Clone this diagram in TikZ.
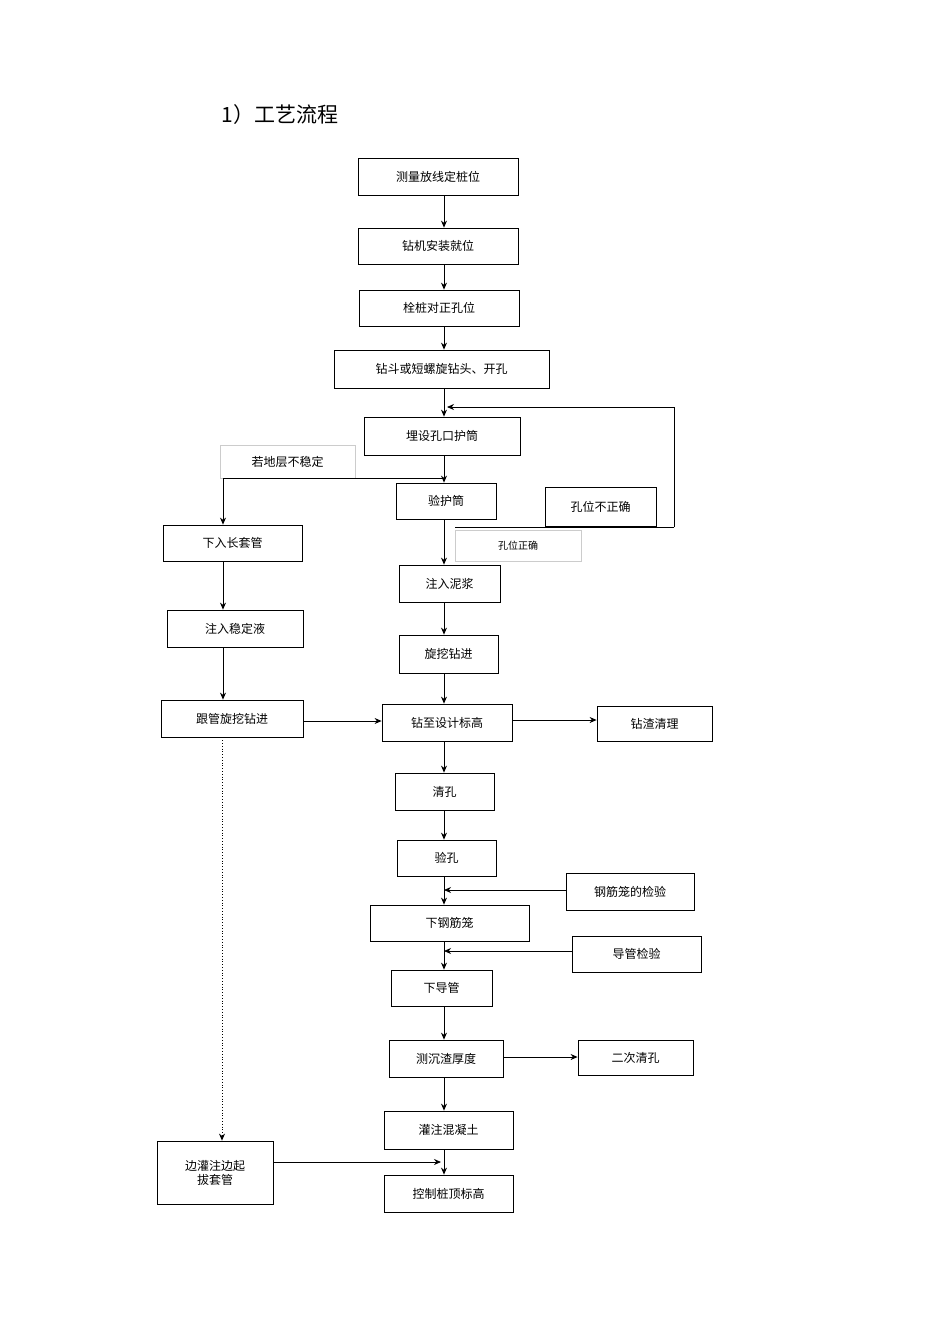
\documentclass[tikz,border=0pt]{standalone}
\usepackage{fontspec}
\setmainfont{Noto Sans CJK SC}
\usetikzlibrary{arrows.meta}
\begin{document}
\begin{tikzpicture}[x=1pt,y=-1pt,
 bx/.style={draw,thick,inner sep=0pt,font=\fontsize{12}{14}\selectfont},
 lb/.style={draw=gray!40,inner sep=0pt,font=\fontsize{12}{14}\selectfont},
 ar/.style={thick,-{Stealth[length=7pt,width=6pt]}}]
\useasboundingbox (0,0) rectangle (950,1344);
\node[font=\fontsize{21}{24}\selectfont] (t) at (280,115) {1）工艺流程};
\newcommand\B[6][bx]{\node[#1,minimum width=#4-#3,minimum height=#6-#5] (#2) at ({(#3+#4)/2},{(#5+#6)/2})}
\B{a}{358}{518}{158}{195}{测量放线定桩位};
\B{b}{358}{518}{228}{264}{钻机安装就位};
\B{c}{359}{519}{290}{326}{栓桩对正孔位};
\B{d}{334}{549}{350}{388}{钻斗或短螺旋钻头、开孔};
\B{e}{364}{520}{417}{455}{埋设孔口护筒};
\B[lb]{l1}{220}{355}{445}{478}{若地层不稳定};
\B{f}{396}{496}{483}{519}{验护筒};
\B{g}{545}{656}{487}{526}{孔位不正确};
\B[lb,font=\fontsize{10}{12}\selectfont]{l2}{455}{581}{530}{561}{孔位正确};
\B{h}{163}{302}{525}{561}{下入长套管};
\B{i}{399}{500}{565}{602}{注入泥浆};
\B{j}{167}{303}{610}{647}{注入稳定液};
\B{k}{399}{498}{635}{673}{旋挖钻进};
\B{m}{161}{303}{700}{737}{跟管旋挖钻进};
\B{n}{382}{512}{704}{741}{钻至设计标高};
\B{o}{597}{712}{706}{741}{钻渣清理};
\B{p}{395}{494}{773}{810}{清孔};
\B{q}{397}{496}{840}{876}{验孔};
\B{r}{566}{694}{873}{910}{钢筋笼的检验};
\B{s}{370}{529}{905}{941}{下钢筋笼};
\B{u}{572}{701}{936}{972}{导管检验};
\B{v}{391}{492}{970}{1006}{下导管};
\B{w}{389}{503}{1040}{1077}{测沉渣厚度};
\B{x}{578}{693}{1040}{1075}{二次清孔};
\B{y}{384}{513}{1111}{1149}{灌注混凝土};
\node[bx,minimum width=116,minimum height=63,align=center] (z) at (215,1172.5) {边灌注边起\\拔套管};
\B{zz}{384}{513}{1175}{1212}{控制桩顶标高};
\foreach \p/\q in {a/b,b/c,c/d,d/e,i/k,k/n,n/p,p/q,q/s,s/v,v/w,w/y,y/zz}
  \draw[ar] (\p.south-|444,0) -- (\q.north-|444,0);
\draw[ar] (e.south-|444,0) -- (f.north-|444,0);
\draw[ar] (f.south-|444,0) -- (i.north-|444,0);
\coordinate (t1) at (674,407); \coordinate (t2) at (674,527);
\draw[thick] (t2) -- (t1);
\draw[ar] (t1) -- (447,407);
\draw[thick] (t2) -- (455,527);
\draw[thick] (444,478) -- (223,478);
\draw[ar] (223,478) -- (h.north-|223,0);
\draw[ar] (h.south-|223,0) -- (j.north-|223,0);
\draw[ar] (j.south-|223,0) -- (m.north-|223,0);
\draw[ar] (m.east|-0,721) -- (n.west|-0,721);
\draw[ar] (n.east|-0,720) -- (o.west|-0,720);
\draw[ar] (w.east|-0,1057) -- (x.west|-0,1057);
\draw[ar] (r.west|-0,890) -- (444,890);
\draw[ar] (u.west|-0,951) -- (444,951);
\draw[ar] (z.east|-0,1162) -- (441,1162);
\draw[ar,dotted] (m.south-|222,0) -- (z.north-|222,0);
\end{tikzpicture}
\end{document}
